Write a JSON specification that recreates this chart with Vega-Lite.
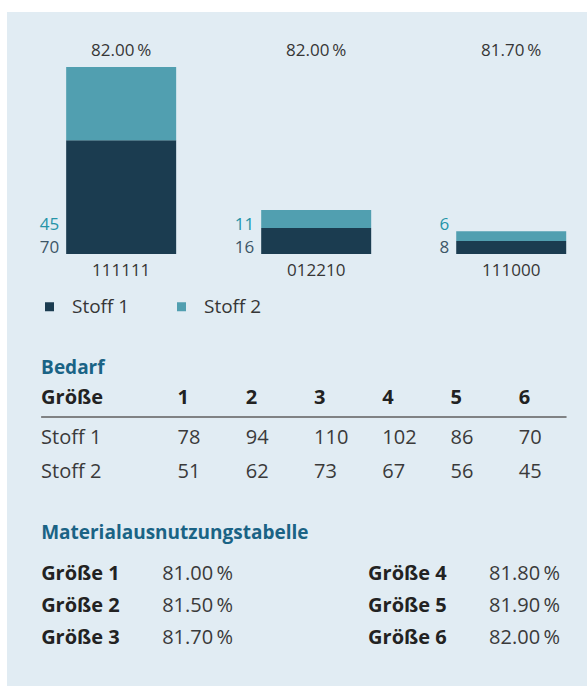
{
  "$schema": "https://vega.github.io/schema/vega-lite/v6.json",
  "background": "white",
  "padding": {"left": 7, "top": 12, "right": 0, "bottom": 0},
  "spacing": 0,
  "config": {
    "font": "Open Sans",
    "view": {"fill": "#e1ecf3", "stroke": null},
    "text": {"font": "Open Sans"}
  },
  "resolve": {"scale": {"x": "independent", "y": "independent", "color": "independent"}},
  "datasets": {
    "bars": [
      {"layout": "111111", "fabric": "Stoff 1", "count": 70},
      {"layout": "111111", "fabric": "Stoff 2", "count": 45},
      {"layout": "012210", "fabric": "Stoff 1", "count": 16},
      {"layout": "012210", "fabric": "Stoff 2", "count": 11},
      {"layout": "111000", "fabric": "Stoff 1", "count": 8},
      {"layout": "111000", "fabric": "Stoff 2", "count": 6}
    ],
    "util": [
      {"layout": "111111", "pct": "82.00\u2009%"},
      {"layout": "012210", "pct": "82.00\u2009%"},
      {"layout": "111000", "pct": "81.70\u2009%"}
    ],
    "bedarf": [
      {"fabric": "Stoff 1", "size": 1, "count": 78},
      {"fabric": "Stoff 1", "size": 2, "count": 94},
      {"fabric": "Stoff 1", "size": 3, "count": 110},
      {"fabric": "Stoff 1", "size": 4, "count": 102},
      {"fabric": "Stoff 1", "size": 5, "count": 86},
      {"fabric": "Stoff 1", "size": 6, "count": 70},
      {"fabric": "Stoff 2", "size": 1, "count": 51},
      {"fabric": "Stoff 2", "size": 2, "count": 62},
      {"fabric": "Stoff 2", "size": 3, "count": 73},
      {"fabric": "Stoff 2", "size": 4, "count": 67},
      {"fabric": "Stoff 2", "size": 5, "count": 56},
      {"fabric": "Stoff 2", "size": 6, "count": 45}
    ],
    "material": [
      {"size": 1, "label": "Größe 1", "util": "81.00\u2009%"},
      {"size": 2, "label": "Größe 2", "util": "81.50\u2009%"},
      {"size": 3, "label": "Größe 3", "util": "81.70\u2009%"},
      {"size": 4, "label": "Größe 4", "util": "81.80\u2009%"},
      {"size": 5, "label": "Größe 5", "util": "81.90\u2009%"},
      {"size": 6, "label": "Größe 6", "util": "82.00\u2009%"}
    ]
  },
  "vconcat": [
    {
      "width": 580,
      "height": 318,
      "layer": [
        {
          "data": {"name": "bars"},
          "mark": {"type": "bar"},
          "encoding": {
            "x": {"field": "layout", "type": "nominal", "sort": null, "axis": null,
                  "scale": {"type": "band", "domain": ["111111", "012210", "111000"], "paddingInner": 0.436, "paddingOuter": 0.205, "align": 0.74}},
            "y": {"field": "count", "type": "quantitative", "stack": "zero", "axis": null,
                  "scale": {"domain": [-46.7, 148.8], "nice": false, "zero": false}},
            "color": {"field": "fabric", "type": "nominal",
                      "scale": {"domain": ["Stoff 1", "Stoff 2"], "range": ["#1b3c50", "#519fb0"]},
                      "legend": {"orient": "none", "legendX": 33, "legendY": 285, "direction": "horizontal",
                                 "title": null, "symbolType": "square", "symbolSize": 81, "symbolStrokeWidth": 0,
                                 "labelFontSize": 19, "labelFont": "Open Sans", "labelColor": "#363636",
                                 "labelOffset": 13, "columnPadding": 42, "padding": 0}},
            "order": {"field": "fabric", "sort": "ascending"}
          }
        },
        {
          "data": {"name": "util"},
          "mark": {"type": "text", "fontSize": 17, "color": "#363636", "baseline": "middle"},
          "encoding": {
            "x": {"field": "layout", "type": "nominal"},
            "y": {"datum": 125, "type": "quantitative"},
            "text": {"field": "pct"}
          }
        },
        {
          "data": {"name": "util"},
          "mark": {"type": "text", "fontSize": 17, "color": "#363636", "baseline": "middle", "dy": 17},
          "encoding": {
            "x": {"field": "layout", "type": "nominal"},
            "y": {"datum": 0, "type": "quantitative"},
            "text": {"field": "layout"}
          }
        },
        {
          "data": {"name": "bars"},
          "transform": [{"filter": "datum.fabric === 'Stoff 1'"}],
          "mark": {"type": "text", "fontSize": 17, "color": "#3d5667", "baseline": "middle", "align": "right", "dx": -7, "dy": -6},
          "encoding": {
            "x": {"field": "layout", "type": "nominal", "bandPosition": 0},
            "y": {"datum": 0, "type": "quantitative"},
            "text": {"field": "count"}
          }
        },
        {
          "data": {"name": "bars"},
          "transform": [{"filter": "datum.fabric === 'Stoff 2'"}],
          "mark": {"type": "text", "fontSize": 17, "color": "#2594a8", "baseline": "middle", "align": "right", "dx": -7, "dy": -29},
          "encoding": {
            "x": {"field": "layout", "type": "nominal", "bandPosition": 0},
            "y": {"datum": 0, "type": "quantitative"},
            "text": {"field": "count"}
          }
        }
      ]
    },
    {
      "width": 580,
      "height": 170,
      "encoding": {
        "x": {"type": "quantitative", "axis": null, "scale": {"domain": [-1.5, 7], "nice": false, "zero": false}},
        "y": {"type": "nominal", "axis": null,
              "scale": {"type": "band", "domain": ["Bedarf", "Größe", "Stoff 1", "Stoff 2"], "paddingInner": 0.235, "paddingOuter": 0.6175, "align": 0.643}}
      },
      "layer": [
        {
          "data": {"values": [{"heading": "Bedarf"}]},
          "mark": {"type": "text", "fontSize": 19, "fontWeight": "bold", "color": "#1a6385", "align": "left", "baseline": "middle", "dy": -2},
          "encoding": {
            "x": {"datum": -1, "type": "quantitative"},
            "y": {"field": "heading", "type": "nominal"},
            "text": {"field": "heading"}
          }
        },
        {
          "data": {"values": [{"h": "Größe"}]},
          "mark": {"type": "text", "fontSize": 20, "fontWeight": "bold", "color": "#222222", "align": "left", "baseline": "middle", "dy": -6},
          "encoding": {
            "x": {"datum": -1, "type": "quantitative"},
            "y": {"field": "h", "type": "nominal"},
            "text": {"field": "h"}
          }
        },
        {
          "data": {"name": "bedarf"},
          "transform": [{"filter": "datum.fabric === 'Stoff 1'"}],
          "mark": {"type": "text", "fontSize": 20, "fontWeight": "bold", "color": "#222222", "align": "left", "baseline": "middle", "dy": -6},
          "encoding": {
            "x": {"field": "size", "type": "quantitative"},
            "y": {"datum": "Größe", "type": "nominal"},
            "text": {"field": "size"}
          }
        },
        {
          "data": {"values": [{"h": "Größe"}]},
          "mark": {"type": "rule", "color": "#5f5f5f", "strokeWidth": 1.5},
          "encoding": {
            "x": {"datum": -1, "type": "quantitative"},
            "x2": {"datum": 6.7},
            "y": {"field": "h", "type": "nominal", "bandPosition": 1}
          }
        },
        {
          "data": {"name": "bedarf"},
          "transform": [{"filter": "datum.size === 1"}],
          "mark": {"type": "text", "fontSize": 20, "color": "#3a3a3a", "align": "left", "baseline": "middle"},
          "encoding": {
            "x": {"datum": -1, "type": "quantitative"},
            "y": {"field": "fabric", "type": "nominal"},
            "text": {"field": "fabric"}
          }
        },
        {
          "data": {"name": "bedarf"},
          "mark": {"type": "text", "fontSize": 20, "color": "#3a3a3a", "align": "left", "baseline": "middle"},
          "encoding": {
            "x": {"field": "size", "type": "quantitative"},
            "y": {"field": "fabric", "type": "nominal"},
            "text": {"field": "count"}
          }
        }
      ]
    },
    {
      "width": 580,
      "height": 186,
      "encoding": {
        "x": {"type": "nominal", "axis": null,
              "scale": {"type": "band", "domain": ["A", "B"], "paddingInner": 0.346, "paddingOuter": 0.06, "align": 0.87}},
        "y": {"type": "nominal", "axis": null,
              "scale": {"type": "band", "domain": ["Materialausnutzungstabelle", "1", "2", "3"], "paddingInner": 0, "paddingOuter": 0.906, "align": 0.448}}
      },
      "layer": [
        {
          "data": {"values": [{"heading": "Materialausnutzungstabelle"}]},
          "mark": {"type": "text", "fontSize": 19, "fontWeight": "bold", "color": "#1a6385", "align": "left", "baseline": "middle", "dy": -9},
          "encoding": {
            "x": {"datum": "A", "type": "nominal", "bandPosition": 0},
            "y": {"field": "heading", "type": "nominal"},
            "text": {"field": "heading"}
          }
        },
        {
          "data": {"name": "material"},
          "transform": [
            {"calculate": "datum.size <= 3 ? 'A' : 'B'", "as": "grp"},
            {"calculate": "toString(datum.size <= 3 ? datum.size : datum.size - 3)", "as": "row"}
          ],
          "layer": [
            {
              "mark": {"type": "text", "fontSize": 20, "fontWeight": "bold", "color": "#222222", "align": "left", "baseline": "middle"},
              "encoding": {
                "x": {"field": "grp", "type": "nominal", "bandPosition": 0},
                "y": {"field": "row", "type": "nominal"},
                "text": {"field": "label"}
              }
            },
            {
              "mark": {"type": "text", "fontSize": 20, "color": "#3a3a3a", "align": "left", "baseline": "middle"},
              "encoding": {
                "x": {"field": "grp", "type": "nominal", "bandPosition": 0.566},
                "y": {"field": "row", "type": "nominal"},
                "text": {"field": "util"}
              }
            }
          ]
        }
      ]
    }
  ]
}
